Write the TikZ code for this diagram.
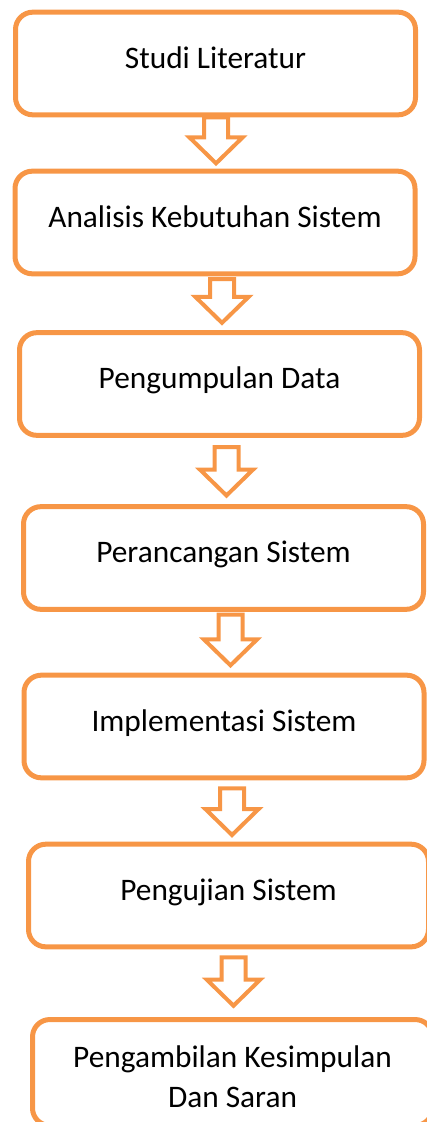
\documentclass[tikz,border=0pt]{standalone}
\usepackage{fontspec}
\setmainfont{Carlito}
\usetikzlibrary{calc}

\definecolor{boxorange}{HTML}{F79646}

\tikzset{
	stepbox/.style={draw=boxorange, line width=3.75pt, rounded corners=13pt,
		minimum width=300pt, minimum height=77pt, align=center,
		font=\fontsize{23.5}{30}\selectfont, text height=17.5pt, text depth=10.5pt},
	hollow/.style={draw=boxorange, line width=3pt, fill=white,
		to path={let \p1=(\tikztostart), \p2=(\tikztotarget) in
			(\x1-9pt,\y1) -- (\x1-9pt,\y2+19.5pt) -- (\x1-20pt,\y2+19.5pt) -- (\x1,\y2)
			-- (\x1+20pt,\y2+19.5pt) -- (\x1+9pt,\y2+19.5pt) -- (\x1+9pt,\y1) -- cycle}}
}

\begin{document}
\begin{tikzpicture}[x=0.75pt, y=-0.75pt]
	\path[use as bounding box, clip] (0,0) rectangle (427,1122);

	\node[stepbox] (B1) at (215.5,63.5) {Studi Literatur};
	\node[stepbox] (B2) at (215,222.5) {Analisis Kebutuhan Sistem};
	\node[stepbox] (B3) at (219.5,384) {Pengumpulan Data};
	\node[stepbox] (B4) at (223.5,558) {Perancangan Sistem};
	\node[stepbox] (B5) at (224,726.5) {Implementasi Sistem};
	\node[stepbox] (B6) at (228.5,895.5) {Pengujian Sistem};
	\node[stepbox, text height=62.3pt] (B7) at (232.5,1072.5) {Pengambilan Kesimpulan\\Dan Saran};

	% hollow arrows between the steps
	\draw[hollow] ([xshift=0.4pt]B1.south) to ([yshift=4pt]B2.north);
	\draw[hollow] ([shift={(5.25pt,-2pt)}]B2.south) to ([yshift=5.5pt]B3.north);
	\draw[hollow] ([shift={(5.25pt,-7pt)}]B3.south) to ([yshift=6.5pt]B4.north);
	\draw[hollow] ([shift={(5.25pt,-2pt)}]B4.south) to ([yshift=5.5pt]B5.north);
	\draw[hollow] ([shift={(6pt,-6pt)}]B5.south) to ([yshift=5pt]B6.north);
	\draw[hollow] ([shift={(3.75pt,-6pt)}]B6.south) to ([yshift=8.5pt]B7.north);
\end{tikzpicture}
\end{document}
